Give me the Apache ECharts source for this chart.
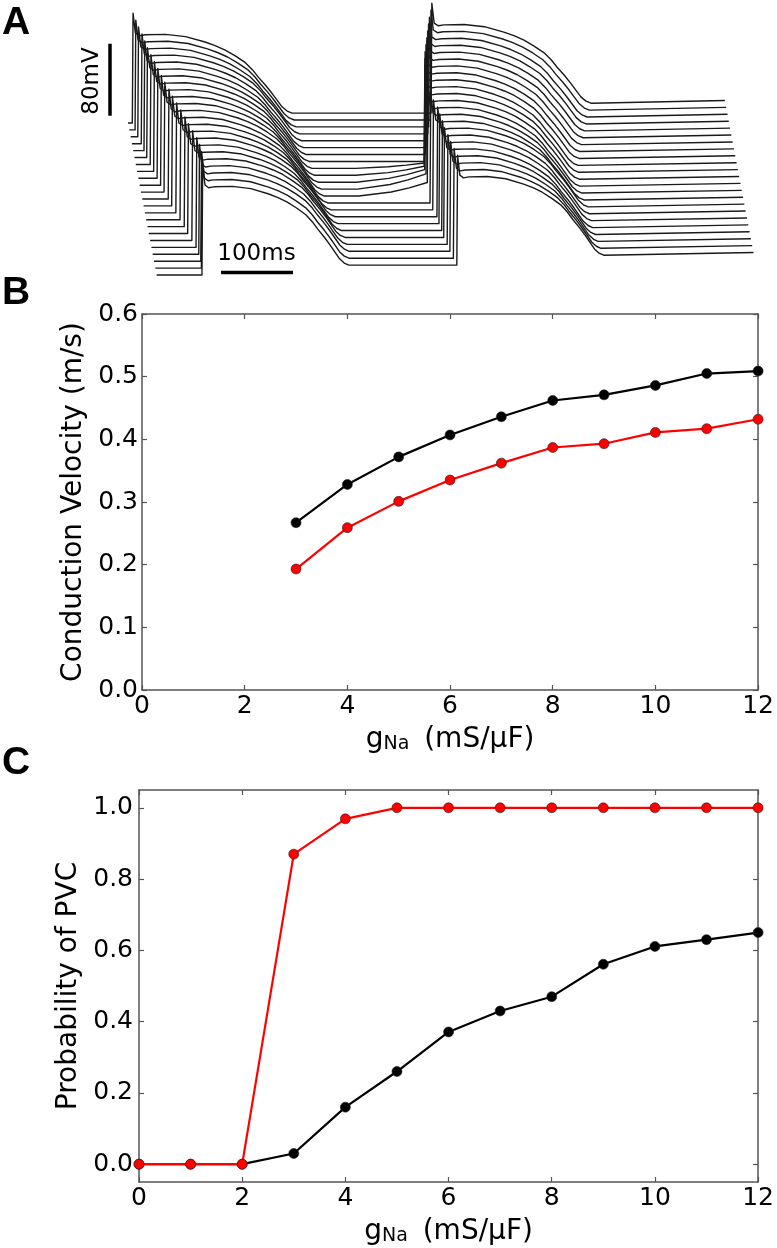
<!DOCTYPE html>
<html><head><meta charset="utf-8">
<script src="https://cdn.jsdelivr.net/npm/echarts@6/dist/echarts.min.js"></script>
<style>html,body{margin:0;padding:0;background:#fff}#c{width:777px;height:1248px}</style>
</head><body><div id="c"></div>
<script>
// ---------- Panel B: conduction velocity ----------
const cvGNa = [3, 4, 5, 6, 7, 8, 9, 10, 11, 12];
const cvBlack = [0.267, 0.328, 0.372, 0.407, 0.436, 0.462, 0.471, 0.486, 0.505, 0.509];
const cvRed = [0.193, 0.259, 0.301, 0.335, 0.362, 0.387, 0.393, 0.411, 0.417, 0.432];
const cvTicks = [0.0, 0.1, 0.2, 0.3, 0.4, 0.5, 0.6];

// ---------- Panel C: probability of PVC ----------
const pvcGNa = [0, 1, 2, 3, 4, 5, 6, 7, 8, 9, 10, 11, 12];
const pvcBlack = [0, 0, 0, 0.03, 0.16, 0.26, 0.371, 0.43, 0.47, 0.561, 0.611, 0.63, 0.65];
const pvcRed = [0, 0, 0, 0.87, 0.969, 1, 1, 1, 1, 1, 1, 1, 1];
const pvcTicks = [0.0, 0.2, 0.4, 0.6, 0.8, 1.0];
const gTicks = [0, 2, 4, 6, 8, 10, 12];

// ---------- Panel A: action potential traces (ms, mV) ----------
// activation (upstroke) times per trace, ms from trace start, top trace first
const ap1Onset = [6, 8, 10, 13, 15, 17, 20, 23, 26, 29, 32, 36, 39, 43, 47, 51, 54, 58, 62, 64, 65, 64, 63];
const ap2Onset = [421, 418, 414, 411, 408, 405, 402, 399, 397, 395, 394, 394, 394, 396, 398, 402, 403, 405, 406, 409, 411, 414, 417];
// action potential duration per trace, ms
const apd = [222, 221, 220, 220, 219, 218, 217, 216, 215, 214, 214, 213, 212, 211, 210, 210, 209, 208, 207, 206, 206, 205, 204];
// slow depolarising foot before the second upstroke, mV
const footAmp = [0, 0, 0, 0, 0, 0, 0, 0, 6, 10, 14, 17, 15, 0, 0, 0, 0, 0, 0, 0, 0, 0, 0];
// action potential shape: ms after upstroke, mV above rest
const apTime = [0, 1, 4.2, 10, 18, 46, 74, 101, 115, 129, 143, 157, 167, 175, 185, 194, 201, 208, 215, 222];
const apVolt = [0, 122, 100, 97, 98, 98.5, 96, 90, 86, 81, 74.5, 67, 59, 51, 42, 33, 25.5, 18, 13.3, 11];
const footTime = [-95, -50, -25, 0];
const footFrac = [0, 0.3, 0.6, 1];
const traceEnd = 829;   // ms
const tailRise = 3;     // mV

// ---------- layout / style constants ----------
const FONT = 'DejaVu Sans';
const SPINE = '#555';
const pxPerMs = 0.72, pxPerMV = 0.9;
const shiftT = 1.3 / pxPerMs;   // waterfall horizontal step per trace (ms)
const shiftV = 6.91 / pxPerMV;  // waterfall vertical step per trace (mV)

function buildTrace(i) {
  const last = apTime.length - 1;
  const s = apd[i] / apTime[last];
  const tt = k => (k < 3 ? apTime[k] : apTime[k] * s);
  const pts = [[0, 0]];
  for (let k = 0; k <= last; k++) pts.push([ap1Onset[i] + tt(k), apVolt[k]]);
  const base = apVolt[last];
  if (footAmp[i] > 0) {
    for (let k = 0; k < footTime.length; k++) pts.push([ap2Onset[i] + footTime[k], base + footAmp[i] * footFrac[k]]);
  } else {
    pts.push([ap2Onset[i], base]);
  }
  for (let k = 1; k <= last; k++) pts.push([ap2Onset[i] + tt(k), base + apVolt[k]]);
  pts.push([traceEnd, base + apVolt[last] + tailRise]);
  return pts.map(p => [p[0] + i * shiftT, p[1] - i * shiftV]);
}

const chart = echarts.init(document.getElementById('c'), null, {renderer: 'canvas'});

const tickStyle = {fontFamily: FONT, fontSize: 25, color: '#000'};
const nameRich = {
  g: {fontFamily: FONT, fontSize: 28, lineHeight: 38, verticalAlign: 'bottom', color: '#000'},
  s: {fontFamily: FONT, fontSize: 19, lineHeight: 19, verticalAlign: 'bottom', color: '#000'},
  r: {fontFamily: FONT, fontSize: 28, lineHeight: 38, verticalAlign: 'bottom', color: '#000', padding: [0, 0, 0, 6]}
};
const gName = '{g|g}{s|Na}{r| (mS/μF)}';

function frameAxis(grid, pos, min, max, extra) {
  return Object.assign({
    type: 'value', gridIndex: grid, position: pos, min: min, max: max,
    axisLine: {show: true, onZero: false, lineStyle: {color: SPINE, width: 1.5}},
    axisTick: {show: true, inside: true, length: 5, lineStyle: {color: SPINE, width: 1.2}},
    axisLabel: {show: false},
    splitLine: {show: false}
  }, extra || {});
}

const xAxes = [
  {type: 'value', gridIndex: 0, min: -50, max: 900, show: false},
  // panel B
  frameAxis(1, 'bottom', 0, 12, {interval: 2,
    axisLabel: Object.assign({show: true, margin: 4}, tickStyle),
    name: gName, nameLocation: 'middle', nameGap: 26, nameTextStyle: {rich: nameRich}}),
  frameAxis(1, 'top', 0, 12, {interval: 2}),
  // panel C
  frameAxis(2, 'bottom', 0, 12, {interval: 2,
    axisLabel: Object.assign({show: true, margin: 4}, tickStyle),
    name: gName, nameLocation: 'middle', nameGap: 26, nameTextStyle: {rich: nameRich}}),
  frameAxis(2, 'top', 0, 12, {interval: 2})
];
const yAxes = [
  {type: 'value', gridIndex: 0, min: 123 / pxPerMV - 320, max: 123 / pxPerMV, show: false},
  // panel B
  frameAxis(1, 'left', 0, 0.6, {interval: 0.1,
    axisLabel: Object.assign({show: true, margin: 4, formatter: v => v.toFixed(1)}, tickStyle),
    name: 'Conduction Velocity (m/s)', nameLocation: 'middle', nameGap: 45,
    nameTextStyle: {fontFamily: FONT, fontSize: 28, color: '#000'}}),
  frameAxis(1, 'right', 0, 0.6, {interval: 0.1}),
  // panel C
  frameAxis(2, 'left', -0.05, 1.05, {
    axisTick: {show: true, inside: true, length: 5, customValues: pvcTicks, lineStyle: {color: SPINE, width: 1.2}},
    axisLabel: Object.assign({show: true, margin: 6, customValues: pvcTicks, formatter: v => v.toFixed(1)}, tickStyle),
    name: 'Probability of PVC', nameLocation: 'middle', nameGap: 45,
    nameTextStyle: {fontFamily: FONT, fontSize: 28, color: '#000'}}),
  frameAxis(2, 'right', -0.05, 1.05, {
    axisTick: {show: true, inside: true, length: 5, customValues: pvcTicks, lineStyle: {color: SPINE, width: 1.2}}})
];

const series = [];
for (let i = 0; i < ap1Onset.length; i++) {
  series.push({type: 'line', xAxisIndex: 0, yAxisIndex: 0, data: buildTrace(i), symbol: 'none',
    clip: false, silent: true, lineStyle: {color: '#1a1a1a', width: 1.4, join: 'round'}});
}
// scale bars (80 mV, 100 ms)
series.push({type: 'line', xAxisIndex: 0, yAxisIndex: 0, symbol: 'none', clip: false, silent: true,
  data: [[-25, 8], [-25, 88]], lineStyle: {color: '#000', width: 3.5}});
series.push({type: 'line', xAxisIndex: 0, yAxisIndex: 0, symbol: 'none', clip: false, silent: true,
  data: [[129.2, -166], [229.2, -166]], lineStyle: {color: '#000', width: 3.5}});

function dotSeries(xs, ys, color, xi, yi, z) {
  return {type: 'line', xAxisIndex: xi, yAxisIndex: yi, data: xs.map((x, k) => [x, ys[k]]),
    symbol: 'circle', symbolSize: 10, showAllSymbol: true, clip: false, z: z,
    lineStyle: {color: color, width: 2.2},
    itemStyle: {color: color, borderColor: '#222', borderWidth: 0.6}};
}
series.push(dotSeries(cvGNa, cvBlack, '#000000', 1, 1, 3));
series.push(dotSeries(cvGNa, cvRed, '#ff0000', 1, 1, 4));
series.push(dotSeries(pvcGNa, pvcBlack, '#000000', 3, 3, 3));
series.push(dotSeries(pvcGNa, pvcRed, '#ff0000', 3, 3, 4));

const panelLetter = (t, y) => ({type: 'text', left: 2, top: y,
  style: {text: t, fontFamily: 'Liberation Sans', fontWeight: 'bold', fontSize: 39, fill: '#000'}});

chart.setOption({
  animation: false,
  backgroundColor: '#fff',
  grid: [
    {left: 92, top: 0, width: 684, height: 288},
    {left: 142, top: 314, width: 618, height: 376},
    {left: 139, top: 790, width: 621, height: 392}
  ],
  xAxis: xAxes,
  yAxis: yAxes,
  series: series,
  graphic: [
    panelLetter('A', 4),
    panelLetter('B', 274),
    panelLetter('C', 744),
    {type: 'text', x: 92.5, y: 81, rotation: Math.PI / 2,
      style: {text: '80mV', fontFamily: FONT, fontSize: 23, fill: '#000', align: 'center', verticalAlign: 'middle'}},
    {type: 'text', x: 256.5, y: 254,
      style: {text: '100ms', fontFamily: FONT, fontSize: 23, fill: '#000', align: 'center', verticalAlign: 'middle'}}
  ]
});
</script>
</body></html>
